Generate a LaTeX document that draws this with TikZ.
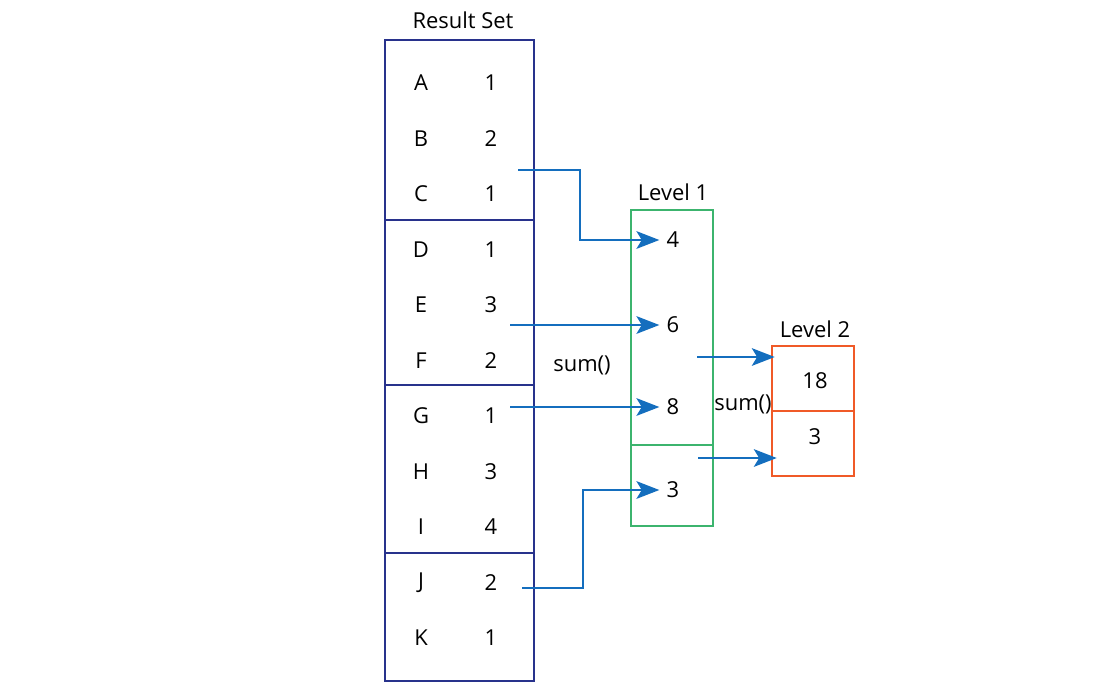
\documentclass[tikz,border=0pt]{standalone}
\usepackage{fontspec}
\setmainfont{Open Sans}
\usetikzlibrary{arrows.meta}
\definecolor{rsblue}{RGB}{40,50,140}
\definecolor{lvgreen}{RGB}{60,180,110}
\definecolor{lvred}{RGB}{240,90,40}
\definecolor{arrblue}{RGB}{20,110,190}
\begin{document}
\begin{tikzpicture}[x=0.02cm, y=-0.02cm, font=\fontsize{12.5}{15}\selectfont,
    txt/.style={inner sep=1pt},
    link/.style={draw=arrblue, line width=1.5pt, shorten >=3pt, -{Stealth[length=13pt,width=10pt,inset=3pt]}}]
    \useasboundingbox (0,0) rectangle (1100,687);
    % result set
    \draw[rsblue, line width=1.2pt] (385,40) rectangle (534,681);
    \draw[rsblue, line width=1.2pt] (385,220) -- (534,220);
    \draw[rsblue, line width=1.2pt] (385,385) -- (534,385);
    \draw[rsblue, line width=1.2pt] (385,553) -- (534,553);
    \node[txt] at (463,20) (RS) {Result Set};
    \node[txt] at (421,83) (A) {A};   \node[txt] at (491,83) (nA) {1};
    \node[txt] at (421,139) (B) {B};  \node[txt] at (491,139) (nB) {2};
    \node[txt] at (421,194) (C) {C};  \node[txt] at (491,194) (nC) {1};
    \node[txt] at (421,250) (D) {D};  \node[txt] at (491,250) (nD) {1};
    \node[txt] at (421,305) (E) {E};  \node[txt] at (491,305) (nE) {3};
    \node[txt] at (421,361) (F) {F};  \node[txt] at (491,361) (nF) {2};
    \node[txt] at (421,416) (G) {G};  \node[txt] at (491,416) (nG) {1};
    \node[txt] at (421,472) (H) {H};  \node[txt] at (491,472) (nH) {3};
    \node[txt] at (421,527) (I) {I};  \node[txt] at (491,527) (nI) {4};
    \node[txt] at (421,583) (J) {J};  \node[txt] at (491,583) (nJ) {2};
    \node[txt] at (421,638) (K) {K};  \node[txt] at (491,638) (nK) {1};
    % level 1
    \draw[lvgreen, line width=1.2pt] (631,210) rectangle (713,526);
    \draw[lvgreen, line width=1.2pt] (631,445) -- (713,445);
    \node[txt] at (673,192) (L1) {Level 1};
    \node[txt] at (673,240) (s4) {4};
    \node[txt] at (673,325) (s6) {6};
    \node[txt] at (673,407) (s8) {8};
    \node[txt] at (673,490) (s3) {3};
    % level 2
    \draw[lvred, line width=1.2pt] (772,346) rectangle (854,476);
    \draw[lvred, line width=1.2pt] (772,411) -- (854,411);
    \node[txt] at (815,329) (L2) {Level 2};
    \node[txt] at (815,381) (t18) {18};
    \node[txt] at (815,437) (t3) {3};
    \node[txt] at (582,365) (sumA) {sum()};
    \node[txt] at (743,404) (sumB) {sum()};
    % connectors
    \coordinate (c1) at (518,170);
    \coordinate (c2) at (510,0 |- s6.west);
    \coordinate (c3) at (510,0 |- s8.west);
    \coordinate (c4) at (522,588);
    \coordinate (c5) at (697,357);
    \coordinate (c6) at (698,458);
    \coordinate (e5) at (780,357);
    \coordinate (e6) at (782,458);
    \path[link] (c1) -| (580,0 |- s4.west) -- (s4.west);
    \path[link] (c2) -- (s6.west);
    \path[link] (c3) -- (s8.west);
    \path[link] (c4) -| (583,0 |- s3.west) -- (s3.west);
    \path[link] (c5) -- (e5);
    \path[link] (c6) -- (e6);
\end{tikzpicture}
\end{document}
